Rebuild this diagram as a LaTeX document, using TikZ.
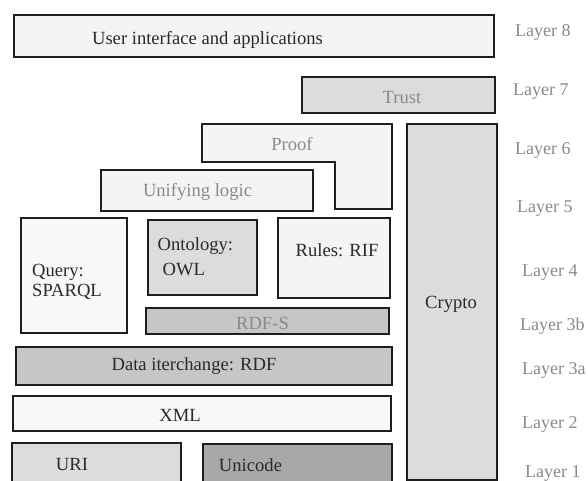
\documentclass[tikz,border=0pt]{standalone}
\usepackage{fontspec}
\setmainfont{Liberation Serif}
\definecolor{lite}{HTML}{F4F4F4}
\definecolor{lite2}{HTML}{F8F8F8}
\definecolor{midg}{HTML}{DCDCDC}
\definecolor{darkg}{HTML}{C6C6C6}
\definecolor{deepg}{HTML}{A8A8A8}
\definecolor{edge}{HTML}{1E1E1E}
\definecolor{txt}{HTML}{2A2A2A}
\definecolor{grtxt}{HTML}{8A8A8A}
\begin{document}
\begin{tikzpicture}[x=1pt,y=-1pt,
  box/.style={draw=edge,line width=1.7pt,rectangle,inner sep=0pt,outer sep=0pt},
  lbl/.style={font=\fontsize{18.6}{20}\selectfont,text=txt,inner sep=0pt,anchor=base},
  glbl/.style={lbl,text=grtxt},
  lay/.style={font=\fontsize{18}{20}\selectfont,text=grtxt,inner sep=0pt,anchor=base west}]
\clip (0,0) rectangle (588,481);
\fill[white] (0,0) rectangle (588,481);
% boxes
\node[box,fill=lite,minimum width=480pt,minimum height=42pt] (ui) at (254,36) {};
\node[box,fill=midg,minimum width=193pt,minimum height=36pt] (trust) at (398.5,95) {};
\draw[draw=edge,line width=1.7pt,fill=lite] (202,124) -- (392,124) -- (392,209) -- (335,209) -- (335,162) -- (202,162) -- cycle;
\node[box,fill=midg,minimum width=90pt,minimum height=356pt] (crypto) at (452,302) {};
\node[box,fill=lite,minimum width=212pt,minimum height=41pt] (logic) at (207,190.5) {};
\node[box,fill=lite2,minimum width=106pt,minimum height=115pt] (query) at (74,275.5) {};
\node[box,fill=midg,minimum width=109pt,minimum height=75pt] (onto) at (202.5,257.5) {};
\node[box,fill=lite,minimum width=112pt,minimum height=80pt] (rules) at (334,258) {};
\node[box,fill=darkg,minimum width=243pt,minimum height=26pt] (rdfs) at (267.5,321) {};
\node[box,fill=darkg,minimum width=376pt,minimum height=38pt] (rdf) at (204,366) {};
\node[box,fill=lite2,minimum width=378pt,minimum height=35pt] (xml) at (202,413.5) {};
\node[box,fill=midg,minimum width=169pt,minimum height=54pt] (uri) at (96.5,470) {};
\node[box,fill=deepg,minimum width=189pt,minimum height=52pt] (unicode) at (297.5,470) {};
% texts
\node[lbl] (tui) at (207.5,44.5) {User interface and applications};
\node[glbl] (ttrust) at (402,103.5) {Trust};
\node[glbl] (tproof) at (292,150.5) {Proof};
\node[glbl] (tlogic) at (197.5,196) {Unifying logic};
\node[lbl,anchor=base west] (tq1) at (32,276) {Query:};
\node[lbl,anchor=base west] (tq2) at (32,296.5) {SPARQL};
\node[lbl,anchor=base west] (to1) at (157.5,250) {Ontology:};
\node[lbl,anchor=base west] (to2) at (162.5,275) {OWL};
\node[lbl] (trules) at (337,256) {Rules: RIF};
\node[lbl] (tcrypto) at (451,308) {Crypto};
\node[glbl] (trdfs) at (262.5,329) {RDF-S};
\node[lbl] (trdf) at (194,370) {Data iterchange: RDF};
\node[lbl] (txml) at (180,421) {XML};
\node[lbl] (turi) at (72,470) {URI};
\node[lbl] (tuni) at (250.5,471) {Unicode};
% layer labels
\node[lay] (l8) at (515,37) {Layer 8};
\node[lay] (l7) at (513,96) {Layer 7};
\node[lay] (l6) at (515,155) {Layer 6};
\node[lay] (l5) at (517,212) {Layer 5};
\node[lay] (l4) at (522,276) {Layer 4};
\node[lay] (l3b) at (520,330) {Layer 3b};
\node[lay] (l3a) at (522,374) {Layer 3a};
\node[lay] (l2) at (522,428) {Layer 2};
\node[lay] (l1) at (525,477) {Layer 1};
\end{tikzpicture}
\end{document}
